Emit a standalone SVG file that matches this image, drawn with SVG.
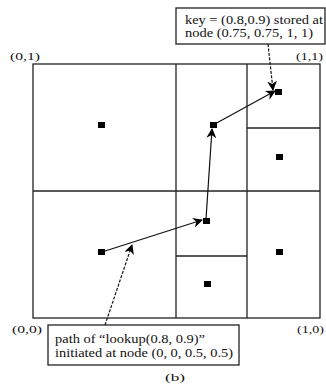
<svg xmlns="http://www.w3.org/2000/svg" width="326" height="386" viewBox="0 0 326 386">
<defs>
<style>
.grid{fill:none;stroke:#222;stroke-width:1.3}
.dot{fill:#000}
.path{fill:none;stroke:#111;stroke-width:1.2}
.note{fill:none;stroke:#111;stroke-width:1.2;stroke-dasharray:3 1.5}
.box{fill:#fff;stroke:#222;stroke-width:1.3}
text{font-family:"Liberation Serif","Times New Roman",serif;fill:#111}
.t{font-size:12px}
.c{font-size:11px}
</style>
<marker id="ah" viewBox="0 0 10 10" refX="9" refY="5" markerWidth="10" markerHeight="10" markerUnits="userSpaceOnUse" orient="auto">
<path d="M0,0 L10,5 L0,10 L3,5 Z" fill="#000"/>
</marker>
</defs>
<rect width="326" height="386" fill="#fff"/>
<g id="space">
<rect class="grid" x="33" y="64" width="287" height="254"/>
<line class="grid" x1="176" y1="64" x2="176" y2="318"/>
<line class="grid" x1="247" y1="64" x2="247" y2="318"/>
<line class="grid" x1="33" y1="191" x2="320" y2="191"/>
<line class="grid" x1="247" y1="128" x2="320" y2="128"/>
<line class="grid" x1="176" y1="256" x2="247" y2="256"/>
</g>
<g id="nodes">
<rect id="n1" class="dot" x="98" y="122" width="7" height="6"/>
<rect id="n2" class="dot" x="210" y="122" width="7" height="6"/>
<rect id="n3" class="dot" x="275" y="89" width="7" height="6"/>
<rect id="n4" class="dot" x="276" y="154" width="7" height="6"/>
<rect id="n5" class="dot" x="203" y="218" width="7" height="6"/>
<rect id="n6" class="dot" x="98" y="249" width="7" height="6"/>
<rect id="n7" class="dot" x="276" y="249" width="7" height="6"/>
<rect id="n8" class="dot" x="204" y="281" width="7" height="6"/>
</g>
<g id="connectors">
<line class="path" x1="102" y1="252" x2="202" y2="220" marker-end="url(#ah)"/>
<line class="path" x1="206" y1="219" x2="212" y2="129" marker-end="url(#ah)"/>
<line class="path" x1="213" y1="125" x2="275" y2="91" marker-end="url(#ah)"/>
<line class="note" x1="268" y1="44" x2="273" y2="90" marker-end="url(#ah)"/>
<line class="note" x1="105" y1="325" x2="132" y2="245" marker-end="url(#ah)"/>
</g>
<g id="key-note">
<rect class="box" x="176" y="8" width="149" height="36"/>
<text class="t" x="185" y="24" textLength="138" lengthAdjust="spacingAndGlyphs">key = (0.8,0.9) stored at</text>
<text class="t" x="185" y="37" textLength="128" lengthAdjust="spacingAndGlyphs">node (0.75, 0.75, 1, 1)</text>
</g>
<g id="path-note">
<rect class="box" x="48" y="325" width="191" height="40"/>
<text class="t" x="55" y="343" textLength="150" lengthAdjust="spacingAndGlyphs">path of “lookup(0.8, 0.9)”</text>
<text class="t" x="55" y="357" textLength="178" lengthAdjust="spacingAndGlyphs">initiated at node (0, 0, 0.5, 0.5)</text>
</g>
<g id="labels">
<text class="c" x="10" y="60" textLength="30" lengthAdjust="spacingAndGlyphs">(0,1)</text>
<text class="c" x="296" y="60" textLength="27" lengthAdjust="spacingAndGlyphs">(1,1)</text>
<text class="c" x="12" y="333" textLength="30" lengthAdjust="spacingAndGlyphs">(0,0)</text>
<text class="c" x="297" y="333" textLength="27" lengthAdjust="spacingAndGlyphs">(1,0)</text>
<text class="c" x="165" y="381" textLength="20" lengthAdjust="spacingAndGlyphs">(b)</text>
</g>
</svg>
